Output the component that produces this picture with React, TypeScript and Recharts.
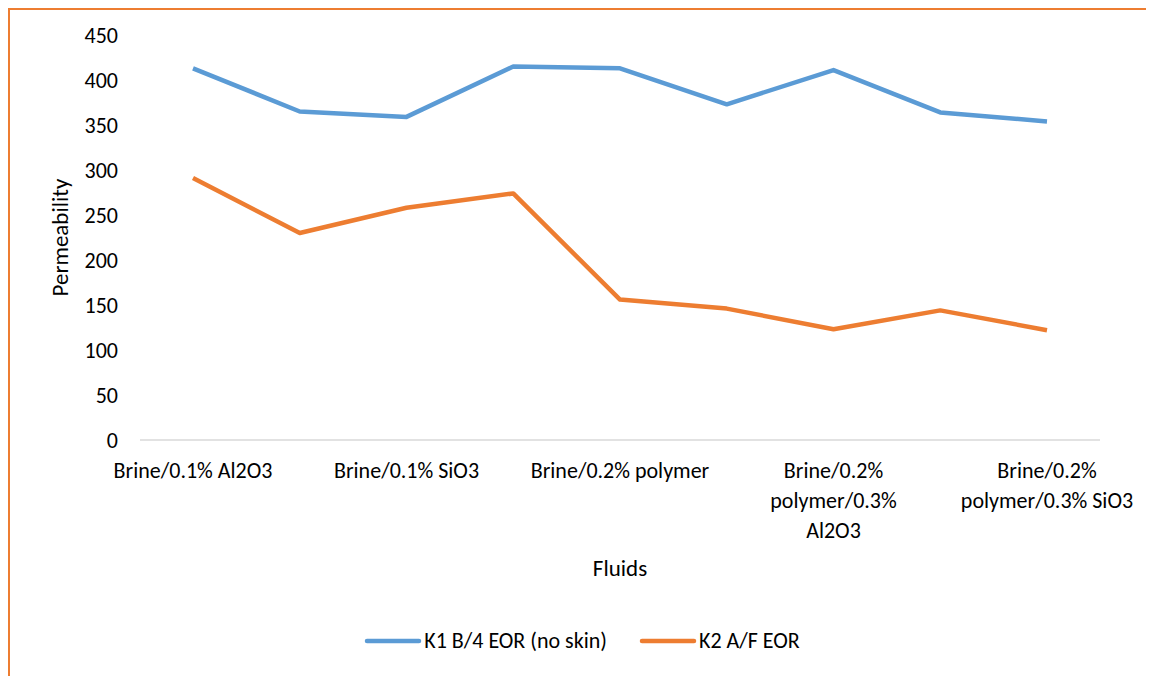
import React from 'react';
import { LineChart, Line, XAxis, YAxis, Legend } from 'recharts';

// fluids injected, in test order (only every other name is printed on the axis)
const fluids = [
    'Brine/0.1% Al2O3',
    'Brine/0.2% Al2O3',
    'Brine/0.1% SiO3',
    'Brine/0.2% SiO3',
    'Brine/0.2% polymer',
    'Brine/0.1% polymer',
    'Brine/0.2% polymer/0.3% Al2O3',
    'Brine/0.2% polymer/0.1% SiO3',
    'Brine/0.2% polymer/0.3% SiO3'
];

const k1BeforeEor = [413, 365, 359, 415, 413, 373, 411, 364, 354];
const k2AfterEor = [291, 230, 258, 274, 156, 146, 123, 144, 122];

const yTicks = [0, 50, 100, 150, 200, 250, 300, 350, 400, 450];

// how the printed tick labels wrap
const tickLines: Record<string, string[]> = {
    'Brine/0.1% Al2O3': ['Brine/0.1% Al2O3'],
    'Brine/0.1% SiO3': ['Brine/0.1% SiO3'],
    'Brine/0.2% polymer': ['Brine/0.2% polymer'],
    'Brine/0.2% polymer/0.3% Al2O3': ['Brine/0.2%', 'polymer/0.3%', 'Al2O3'],
    'Brine/0.2% polymer/0.3% SiO3': ['Brine/0.2%', 'polymer/0.3% SiO3']
};

const BLUE = '#5B9BD5';
const ORANGE = '#ED7D31';
const FONT = 'Carlito, Calibri, Lato, sans-serif';

const chartData = fluids.map((name, i) => ({
    name,
    k1: k1BeforeEor[i],
    k2: k2AfterEor[i]
}));

const FluidTick = (props: any) => {
    const { x, y, payload } = props;
    const lines = tickLines[payload.value] || [payload.value];
    return (
        <text x={x} y={y} textAnchor="middle" fill="#000" fontSize={22} fontFamily={FONT}>
            {lines.map((line, i) => (
                <tspan key={i} x={x} dy={i === 0 ? 30 : 30}>
                    {line}
                </tspan>
            ))}
        </text>
    );
};

const LegendContent = (props: any) => {
    const { payload } = props;
    return (
        <div style={{ display: 'flex', justifyContent: 'center', fontFamily: FONT, fontSize: 22 }}>
            {(payload || []).map((item: any) => (
                <div key={item.value} style={{ display: 'flex', alignItems: 'center', margin: '0 16px' }}>
                    <svg width={58} height={10}>
                        <line x1={3} y1={5} x2={55} y2={5} stroke={item.color} strokeWidth={4.5} strokeLinecap="round" />
                    </svg>
                    <span style={{ marginLeft: 2, color: '#000' }}>{item.value}</span>
                </div>
            ))}
        </div>
    );
};

const App: React.FC = () => {
    return (
        <div
            style={{
                width: 1146,
                height: 668,
                borderTop: `2px solid ${ORANGE}`,
                borderLeft: `2px solid ${ORANGE}`,
                boxSizing: 'border-box',
                background: '#fff'
            }}
        >
            <LineChart
                width={1144}
                height={666}
                data={chartData}
                margin={{ top: 25, right: 54, left: 60, bottom: 86 }}
            >
                <XAxis
                    dataKey="name"
                    interval={1}
                    tickLine={false}
                    axisLine={{ stroke: '#D9D9D9', strokeWidth: 1.5 }}
                    tick={<FluidTick />}
                    padding={{ left: 53, right: 53 }}
                    height={150}
                    label={{
                        value: 'Fluids',
                        position: 'insideBottom',
                        offset: 14,
                        style: { fontSize: 23, fontFamily: FONT, fill: '#000' }
                    }}
                />
                <YAxis
                    domain={[0, 450]}
                    ticks={yTicks}
                    width={70}
                    axisLine={false}
                    tickLine={false}
                    tickMargin={16}
                    tick={{ fontSize: 22, fontFamily: FONT, fill: '#000' }}
                    label={{
                        value: 'Permeability',
                        angle: -90,
                        position: 'insideLeft',
                        offset: -10,
                        style: { fontSize: 23, fontFamily: FONT, fill: '#000', textAnchor: 'middle' }
                    }}
                />
                <Legend
                    layout="horizontal"
                    verticalAlign="middle"
                    align="center"
                    content={<LegendContent />}
                    wrapperStyle={{ top: 617, left: 0, width: 1144 }}
                />
                <Line
                    name="K1 B/4 EOR (no skin)"
                    dataKey="k1"
                    stroke={BLUE}
                    strokeWidth={4.5}
                    dot={false}
                    strokeLinejoin="round"
                    isAnimationActive={false}
                />
                <Line
                    name="K2 A/F EOR"
                    dataKey="k2"
                    stroke={ORANGE}
                    strokeWidth={4.5}
                    dot={false}
                    strokeLinejoin="round"
                    isAnimationActive={false}
                />
            </LineChart>
        </div>
    );
};

export default App;
